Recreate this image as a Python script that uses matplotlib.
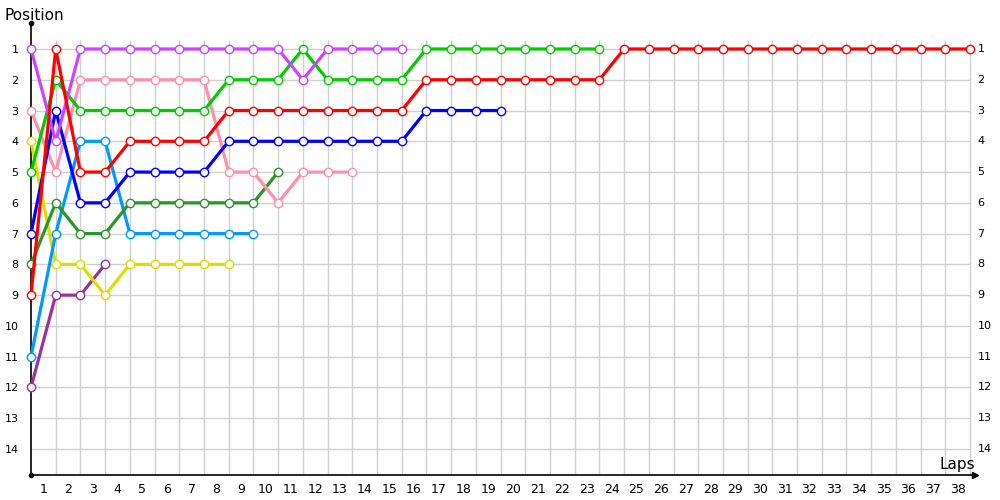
import matplotlib
matplotlib.use("Agg")
import matplotlib.pyplot as plt

# Positions per lap (lap 0 = grid)
red        = [9, 1, 5, 5, 4, 4, 4, 4, 3, 3, 3, 3, 3, 3, 3, 3, 2, 2, 2, 2, 2, 2, 2, 2,
              1, 1, 1, 1, 1, 1, 1, 1, 1, 1, 1, 1, 1, 1, 1]
violet     = [1, 4, 1, 1, 1, 1, 1, 1, 1, 1, 1, 2, 1, 1, 1, 1]
green      = [5, 2, 3, 3, 3, 3, 3, 3, 2, 2, 2, 1, 2, 2, 2, 2, 1, 1, 1, 1, 1, 1, 1, 1]
blue       = [7, 3, 6, 6, 5, 5, 5, 5, 4, 4, 4, 4, 4, 4, 4, 4, 3, 3, 3, 3]
pink       = [3, 5, 2, 2, 2, 2, 2, 2, 5, 5, 6, 5, 5, 5]
darkgreen  = [8, 6, 7, 7, 6, 6, 6, 6, 6, 6, 5]
lightblue  = [11, 7, 4, 4, 7, 7, 7, 7, 7, 7]
yellow     = [4, 8, 8, 9, 8, 8, 8, 8, 8]
darkpurple = [12, 9, 9, 8]

series = [
    (darkpurple, "#993399"),
    (yellow, "#dddd00"),
    (lightblue, "#0099ff"),
    (darkgreen, "#2a962a"),
    (pink, "#ff8fab"),
    (blue, "#0000ff"),
    (green, "#00cc00"),
    (violet, "#cc44ff"),
    (red, "#ff0000"),
]

n_laps = 38
positions = list(range(1, 15))

fig = plt.figure(figsize=(10, 5), dpi=100)
ax = fig.add_axes([0.031, 0.05, 0.944, 0.906])
xmax = 38.2
ax.set_xlim(0, xmax)
ax.set_ylim(14.845, 0.123)
for s in ax.spines.values():
    s.set_visible(False)

# grid
ax.vlines(range(1, n_laps + 1), 0.7, 14.845, color="#d0d0d0", lw=1, zorder=0)
ax.hlines(positions, 0, n_laps, color="#d0d0d0", lw=1, zorder=0)

# axes lines
ax.plot([0, 0], [14.845, 0.15], color="black", lw=1.2, clip_on=False, zorder=1)
ax.plot([0, xmax], [14.845, 14.845], color="black", lw=1.2, clip_on=False, zorder=1)
ax.plot([0], [0.15], marker="o", ms=3, color="black", clip_on=False)
ax.plot([0], [14.845], marker="o", ms=3, color="black", clip_on=False)
ax.plot([xmax], [14.845], marker=">", ms=5, color="black", clip_on=False)

for vals, col in series:
    ax.plot(range(len(vals)), vals, color=col, lw=2.3, marker="o", ms=6,
            mfc="white", mec=col, mew=1.0, zorder=3, clip_on=False)

# ticks
ax.set_yticks(positions)
ax.set_yticklabels([str(p) for p in positions], fontsize=8)
ax.set_xticks([l - 0.5 for l in range(1, n_laps + 1)])
ax.set_xticklabels([str(l) for l in range(1, n_laps + 1)], fontsize=9)
ax.tick_params(axis="y", length=0, pad=9)
ax.tick_params(axis="x", length=0, pad=6)
for p in positions:
    ax.text(38.3, p, str(p), fontsize=8, va="center", ha="left")

fig.text(0.004, 0.97, "Position", fontsize=11, ha="left", va="center")
ax.text(37.5, 14.5, "Laps", fontsize=11, ha="center", va="center")

fig.savefig("out.png", dpi=100)
